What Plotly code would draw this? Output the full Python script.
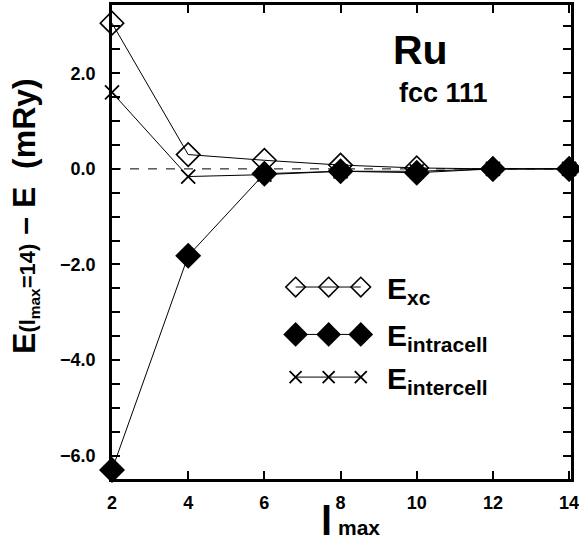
import plotly.graph_objects as go

lmax = [2, 4, 6, 8, 10, 12, 14]
e_xc = [3.05, 0.30, 0.18, 0.08, 0.02, 0.0, 0.0]
e_intra = [-6.30, -1.82, -0.10, -0.05, -0.08, 0.0, 0.0]
e_inter = [1.60, -0.16, -0.12, -0.05, -0.05, 0.0, 0.0]
y_ticks = [-6.0, -4.0, -2.0, 0.0, 2.0]
x_ticks = [2, 4, 6, 8, 10, 12, 14]

FONT = "Liberation Sans"
fig = go.Figure()

line = dict(color="black", width=1)
fig.add_trace(go.Scatter(x=lmax, y=e_xc, mode="lines+markers", line=line,
                         marker=dict(symbol="diamond-open", size=18, color="black", line=dict(width=1.6)),
                         cliponaxis=False, showlegend=False))
fig.add_trace(go.Scatter(x=lmax, y=e_intra, mode="lines+markers", line=line,
                         marker=dict(symbol="diamond", size=20, color="black"),
                         cliponaxis=False, showlegend=False))
fig.add_trace(go.Scatter(x=lmax, y=e_inter, mode="lines+markers", line=line,
                         marker=dict(symbol="x-thin-open", size=14, color="black", line=dict(width=1.8, color="black")),
                         cliponaxis=False, showlegend=False))

# custom legend samples (overlay axes in 0..1 units)
leg_x = [0.40, 0.472, 0.542]
legend_rows = [
    (0.405, dict(symbol="diamond-open", size=15, color="black", line=dict(width=1.6)), "E<sub>xc</sub>"),
    (0.305, dict(symbol="diamond", size=19, color="black"), "E<sub>intracell</sub>"),
    (0.215, dict(symbol="x-thin-open", size=12, color="black", line=dict(width=1.8, color="black")), "E<sub>intercell</sub>"),
]
for ly, mk, label in legend_rows:
    fig.add_trace(go.Scatter(x=leg_x, y=[ly] * 3, mode="lines+markers", line=line, marker=mk,
                             xaxis="x2", yaxis="y2", showlegend=False, cliponaxis=False))
    fig.add_annotation(x=0.594, y=ly, xref="x2", yref="y2", text="<b>" + label + "</b>",
                       showarrow=False, xanchor="left", yanchor="middle", yshift=-3,
                       font=dict(family=FONT, size=30, color="black"))

fig.add_shape(type="line", xref="paper", x0=0, x1=1, yref="y", y0=0, y1=0,
              line=dict(color="black", width=1, dash="dash"))

fig.add_annotation(x=0.673, y=0.905, xref="paper", yref="paper", text="<b>Ru</b>", showarrow=False,
                   xanchor="center", yanchor="middle", font=dict(family=FONT, size=41, color="black"))
fig.add_annotation(x=0.723, y=0.815, xref="paper", yref="paper", text="<b>fcc 111</b>", showarrow=False,
                   xanchor="center", yanchor="middle", font=dict(family=FONT, size=27, color="black"))

fig.add_annotation(x=0, y=0.555, xref="paper", yref="paper", xshift=-87, textangle=-90,
                   text="<b>E<span style='font-size:22px'>(l<sub>max</sub>=14)</span> – E  (mRy)</b>",
                   showarrow=False, xanchor="center", yanchor="middle",
                   font=dict(family=FONT, size=32, color="black"))
fig.add_annotation(x=0.52, y=0, xref="paper", yref="paper", yshift=-42,
                   text="<b>l<span style='font-size:21px'> max</span></b>",
                   showarrow=False, xanchor="center", yanchor="middle",
                   font=dict(family=FONT, size=40, color="black"))

axis_common = dict(showgrid=False, zeroline=False, showline=True, linecolor="black", linewidth=2.5,
                   mirror="ticks", ticks="inside", ticklen=8, tickwidth=1.5, tickcolor="black",
                   automargin=False, ticklabeloverflow="allow",
                   tickfont=dict(family=FONT, size=18, color="black", weight="bold"))
fig.update_layout(
    width=579, height=550,
    margin=dict(l=112, r=8, t=5, b=71),
    paper_bgcolor="white", plot_bgcolor="white",
    xaxis=dict(range=[2, 14.05], tickvals=x_ticks, ticktext=[str(v) for v in x_ticks],
               ticklabelstandoff=6, **axis_common),
    yaxis=dict(range=[-6.49, 3.43], tickvals=y_ticks, ticktext=[("−" if v < 0 else "") + f"{abs(v):.1f}" for v in y_ticks],
               ticklabelstandoff=10,
               minor=dict(dtick=0.5, ticks="inside", ticklen=8, tickwidth=1.5, tickcolor="black", tick0=0),
               **axis_common),
    xaxis2=dict(overlaying="x", range=[0, 1], visible=False),
    yaxis2=dict(overlaying="y", range=[0, 1], visible=False),
)

fig.write_html("out.html", config={"displayModeBar": False},
               post_script="document.body.style.margin='0';")
